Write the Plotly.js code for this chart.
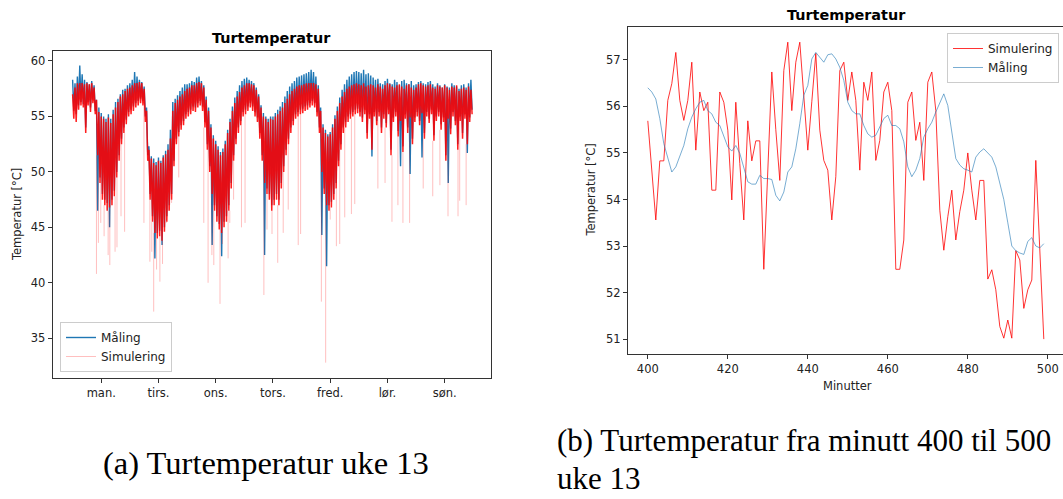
<!DOCTYPE html>
<html><head><meta charset="utf-8">
<script src="https://cdn.plot.ly/plotly-3.0.1.min.js"></script>
<style>html,body{margin:0;padding:0;background:#fff;}#chart{width:1063px;height:499px;}</style>
</head><body><div id="chart"></div>
<script>
// ---------- (a) Week 13, hourly envelope of the dense minute series ----------
const dayNames = ['man.', 'tirs.', 'ons.', 'tors.', 'fred.', 'lør.', 'søn.'];
const dayTickHours = [12, 36, 60, 84, 108, 132, 156];

// Simulering: upper / lower edge of the dense band, per hour (h = 0..167)
const simHi = [
 57.0,57.6,58.0,58.0,58.0,57.9,58.0,57.9,58.0,57.6,56.5,55.4,55.0,54.8,54.5,54.9,54.4,55.2,55.8,56.3,56.8,57.0,57.3,57.5,
 57.6,57.8,58.0,58.0,58.1,58.0,57.5,55.5,52.0,51.2,50.8,50.6,51.0,50.8,51.3,51.6,52.0,53.0,55.5,56.2,56.5,56.8,57.0,57.3,
 57.5,57.6,57.8,57.8,58.0,58.1,58.0,57.6,56.5,55.5,54.0,53.0,52.5,52.0,51.5,51.8,52.5,53.5,54.5,55.5,56.2,56.8,57.2,57.6,
 57.8,58.0,58.0,57.9,57.8,57.4,56.8,55.8,55.0,54.8,54.5,54.8,54.7,55.0,55.2,55.5,55.8,56.2,56.6,57.0,57.3,57.5,57.7,57.8,
 57.8,57.9,58.0,58.0,58.0,58.0,57.9,57.5,55.5,54.0,53.5,53.2,53.4,54.0,54.8,55.5,56.2,56.8,57.2,57.5,57.7,57.8,57.9,58.0,
 57.9,57.8,58.0,57.7,57.8,57.9,57.8,57.6,57.9,57.7,57.5,57.8,58.0,57.9,57.7,57.6,57.8,57.9,57.7,57.5,57.8,57.9,57.6,57.4,
 57.6,57.9,58.0,57.8,57.7,57.8,57.9,57.6,57.5,57.8,57.7,57.6,57.8,57.6,57.4,57.7,57.6,57.8,57.3,57.5,57.6,57.4,57.7,57.4
];
const simLo = [
 54.8,54.5,55.6,56.0,55.8,53.5,56.0,55.4,56.2,55.2,51.5,49.0,47.5,47.0,46.5,46.8,47.0,47.8,49.5,51.0,52.5,53.5,54.3,55.0,
 55.2,55.5,55.8,56.0,56.2,56.0,54.5,51.0,47.5,45.5,44.5,44.0,44.2,43.8,44.6,45.5,46.5,47.5,50.5,52.5,53.2,53.8,54.2,54.8,
 55.0,55.2,55.5,55.4,55.8,56.0,55.5,54.0,52.0,50.0,48.0,46.5,45.5,44.8,44.5,45.0,45.5,46.5,48.5,51.0,52.5,53.5,54.2,55.0,
 55.2,55.5,55.8,55.5,55.0,54.5,53.0,51.0,49.0,48.0,47.5,46.5,47.0,47.5,47.0,48.5,50.0,51.5,52.5,53.5,54.2,54.8,55.0,55.2,
 55.3,55.5,55.6,55.8,56.0,55.8,55.0,53.5,50.0,48.0,47.0,46.5,46.8,47.5,48.5,50.5,52.0,53.5,54.0,54.5,54.8,55.0,55.2,55.3,
 55.0,54.5,55.2,53.0,54.8,52.0,55.0,54.2,55.0,53.5,54.8,54.0,55.2,51.5,54.5,55.0,53.2,54.6,51.8,54.8,53.5,54.9,52.5,54.5,
 55.0,54.2,55.3,53.0,55.0,54.4,55.2,52.8,54.6,55.0,53.8,54.5,51.0,54.8,53.4,55.0,54.2,52.0,54.6,53.0,54.8,52.5,54.5,55.2
];
// Simulering: isolated deep dips (hour, lowest value)
const simDipHour = [10.0,10.8,11.8,13.2,14.9,15.6,17.8,18.6,20.3,21.8,
 29.9,32.4,33.2,34.0,35.2,36.6,37.7,39.3,40.1,41.5,44.5,
 55.0,56.8,58.4,59.2,61.8,62.8,65.2,65.9,67.5,70.8,
 72.3,80.2,81.5,83.6,86.0,88.3,90.4,94.6,95.6,
 104.3,106.1,108.0,110.6,112.0,114.1,116.9,118.3,
 128.0,131.0,133.9,136.4,138.5,141.3,147.0,151.0,154.0,157.4,161.6,162.3,165.0];
const simDipMin = [40.8,43.6,45.4,44.2,42.5,41.6,42.8,43.2,46.0,44.6,
 45.4,41.9,42.8,37.4,41.2,40.1,41.7,45.4,47.0,47.2,49.5,
 45.4,40.0,42.5,41.6,38.1,43.5,42.2,45.4,47.5,45.0,
 45.4,38.9,44.8,44.4,41.8,44.5,46.6,43.4,44.4,
 38.3,32.8,45.7,43.3,43.5,45.9,46.2,47.1,
 48.5,49.0,45.5,47.0,45.4,45.4,48.5,47.8,48.8,46.0,46.0,47.4,47.0];

// Måling: upper / lower edge per hour
const malHi = [
 58.3,58.0,58.6,59.6,58.8,58.3,58.1,57.9,58.2,57.8,56.5,55.8,55.3,55.0,54.8,55.2,54.8,55.6,56.3,56.6,57.0,57.4,57.5,57.8,
 58.0,58.3,59.0,58.6,58.3,58.1,57.7,55.8,52.3,51.4,51.2,50.9,51.3,51.0,51.5,51.9,52.5,53.8,56.3,56.6,56.9,57.3,57.6,57.9,
 57.9,58.0,58.2,58.1,58.5,58.6,58.2,57.8,56.8,55.8,54.3,53.3,52.8,52.3,51.8,52.1,52.8,53.8,54.8,55.9,56.7,57.3,57.8,58.2,
 58.4,58.5,58.3,58.2,58.0,57.6,57.0,56.0,55.3,55.0,54.8,55.0,55.0,55.3,55.6,55.9,56.3,56.8,57.3,57.7,58.0,58.2,58.5,58.6,
 58.7,58.8,58.9,59.0,59.2,59.0,58.6,57.8,55.8,54.3,53.8,53.4,53.6,54.3,55.1,55.9,56.7,57.4,57.9,58.3,58.6,58.8,59.0,59.1,
 59.0,58.9,59.2,58.8,58.9,58.7,58.5,58.3,58.4,58.0,57.9,58.2,58.4,58.0,57.9,58.3,58.1,57.8,58.2,58.3,58.0,57.9,58.2,57.8,
 57.9,58.1,58.2,58.0,57.9,58.1,58.2,57.9,57.7,58.0,57.8,57.6,57.9,57.7,57.6,58.0,57.8,57.7,57.5,57.8,57.9,57.6,58.0,58.3
];
const malLo = [
 55.5,55.2,56.0,56.3,56.1,54.0,56.3,55.8,56.5,55.5,46.5,49.5,48.0,47.5,47.2,45.0,47.5,48.3,50.0,51.5,53.0,54.0,54.7,55.4,
 55.6,55.9,56.2,56.4,56.6,56.4,55.0,51.5,48.0,46.0,42.2,44.5,44.7,43.4,45.0,46.0,47.0,48.0,51.0,53.0,53.6,54.2,54.6,55.2,
 55.4,55.6,55.9,55.8,56.2,56.4,55.9,54.5,52.5,50.5,43.4,47.0,46.0,45.3,42.4,45.5,46.0,47.0,49.0,51.5,53.0,54.0,54.6,55.4,
 55.6,55.9,56.2,55.9,55.4,54.9,53.5,51.5,42.5,48.5,48.0,47.0,47.5,48.0,47.5,49.0,50.5,52.0,53.0,54.0,54.6,55.2,55.4,55.6,
 55.7,55.9,56.0,56.2,56.4,56.2,55.4,54.0,44.3,48.5,41.5,47.0,47.3,48.0,49.0,51.0,52.5,54.0,54.5,55.0,55.2,55.4,55.6,55.7,
 55.4,54.9,55.6,53.5,55.2,51.4,55.4,54.6,55.4,54.0,55.2,54.4,55.6,52.0,54.9,55.4,53.7,50.5,52.3,55.2,54.0,49.8,53.0,54.9,
 55.4,54.6,51.3,53.5,55.4,54.8,55.6,53.3,55.0,55.4,54.3,54.9,51.5,49.0,53.9,55.4,54.6,52.5,55.0,53.5,55.2,51.7,54.9,55.6
];

// ---------- (b) minutes 400..499 ----------
const startMinute = 400;
const simulering = [
 55.69,54.60,53.56,54.83,54.83,56.13,56.49,57.16,56.13,55.70,
 56.13,56.95,55.06,56.31,55.91,56.09,54.20,54.20,56.31,56.09,
 55.49,53.99,56.09,54.77,53.56,55.69,54.83,55.26,55.26,52.50,
 54.60,56.74,55.50,54.41,56.77,57.38,55.91,56.95,57.38,56.27,
 55.06,56.10,57.14,55.49,54.84,54.63,53.56,54.49,56.77,56.95,
 56.13,56.74,56.13,54.63,56.52,56.13,56.74,54.84,55.27,56.31,
 56.52,55.91,52.50,52.50,53.13,56.09,56.31,55.27,55.66,54.41,
 56.52,56.74,55.91,53.77,52.91,53.63,54.20,53.13,53.74,54.20,
 55.00,54.20,53.56,54.41,54.41,52.29,52.49,52.06,51.27,51.02,
 51.41,51.02,52.90,52.70,51.66,52.06,52.27,54.84,52.90,51.00
];
const maling = [
 56.40,56.31,56.16,55.74,55.20,54.88,54.59,54.70,54.91,55.16,
 55.52,55.77,55.95,56.09,56.13,55.91,55.84,55.66,55.59,55.38,
 55.13,55.04,55.16,54.99,54.70,54.38,54.33,54.33,54.52,54.45,
 54.45,54.43,54.09,53.97,54.16,54.59,54.70,55.09,55.63,56.24,
 56.45,57.02,57.16,57.06,56.95,57.11,57.13,57.02,56.84,56.56,
 56.09,55.91,55.84,55.84,55.59,55.41,55.34,55.38,55.56,55.74,
 55.81,55.59,55.59,55.52,55.24,54.70,54.49,54.63,54.88,55.34,
 55.52,55.66,55.88,56.09,56.27,56.02,55.41,54.88,54.74,54.66,
 54.63,54.59,54.91,55.02,55.09,54.99,54.91,54.70,54.34,54.00,
 53.50,53.00,52.90,52.85,52.82,53.10,53.18,53.00,52.96,53.05
];
const yTicksA = [35, 40, 45, 50, 55, 60];
const xTicksB = [400, 420, 440, 460, 480, 500];
const yTicksB = [51, 52, 53, 54, 55, 56, 57];

// ---------- build ----------
function band(hi, lo) {
  const x = [], y = [];
  hi.forEach((v, i) => { x.push(i, i + 0.5); y.push(v, lo[i]); });
  return {x, y};
}
const mBand = band(malHi, malLo);
const sBand = band(simHi, simLo);
const dipX = [], dipY = [];
simDipHour.forEach((h, i) => { dipX.push(h, h, null); dipY.push(simLo[Math.floor(h)], simDipMin[i], null); });
const minutter = simulering.map((_, i) => startMinute + i);

const W = 1063, H = 499;
const fx = p => p / W, fy = p => 1 - p / H;
const FONT = 'DejaVu Sans, sans-serif';
const INK = '#222';

const traces = [
  {x: mBand.x, y: mBand.y, xaxis: 'x', yaxis: 'y', mode: 'lines', name: 'Måling',
   line: {color: '#1f77b4', width: 1.4}, legend: 'legend'},
  {x: dipX, y: dipY, xaxis: 'x', yaxis: 'y', mode: 'lines', name: 'Simulering', connectgaps: false,
   line: {color: 'rgba(255,0,0,0.25)', width: 1}, legend: 'legend', legendgroup: 'sim'},
  {x: sBand.x, y: sBand.y, xaxis: 'x', yaxis: 'y', mode: 'lines', name: 'Simulering', showlegend: false,
   line: {color: 'rgba(255,0,0,0.88)', width: 1.5}, legendgroup: 'sim'},
  {x: minutter, y: simulering, xaxis: 'x2', yaxis: 'y2', mode: 'lines', name: 'Simulering',
   line: {color: 'rgba(255,0,0,0.8)', width: 1}, legend: 'legend2'},
  {x: minutter, y: maling, xaxis: 'x2', yaxis: 'y2', mode: 'lines', name: 'Måling',
   line: {color: 'rgba(31,119,180,0.6)', width: 1}, legend: 'legend2'}
];

const axBase = {showgrid: false, zeroline: false, showline: true, linecolor: '#333', linewidth: 1,
  ticks: 'outside', ticklen: 4, tickwidth: 1, tickcolor: '#333',
  tickfont: {family: FONT, size: 11.5, color: INK}, fixedrange: true};

const legBase = {bgcolor: 'rgba(255,255,255,0.8)', bordercolor: '#cccccc', borderwidth: 1,
  font: {family: FONT, size: 12, color: INK}, tracegroupgap: 0, itemwidth: 30};

function ann(text, x, y, opts) {
  return Object.assign({text, x: fx(x), y: fy(y), xref: 'paper', yref: 'paper', showarrow: false,
    xanchor: 'center', yanchor: 'middle', font: {family: FONT, size: 11.5, color: INK}}, opts || {});
}
const SERIF_A = {family: 'Liberation Serif, serif', size: 32.5, color: '#000'};
const SERIF_B = {family: 'Liberation Serif, serif', size: 31, color: '#000'};

const layout = {
  width: W, height: H, margin: {l: 0, r: 0, t: 0, b: 0},
  paper_bgcolor: '#fff', plot_bgcolor: '#fff',
  xaxis: Object.assign({}, axBase, {domain: [fx(52.7), fx(490.7)], range: [-8.35, 175.3], anchor: 'y',
    mirror: true, tickmode: 'array', tickvals: dayTickHours, ticktext: dayNames}),
  yaxis: Object.assign({}, axBase, {domain: [fy(378.3), fy(51)], range: [31.39, 60.9], anchor: 'x',
    mirror: true, tickmode: 'array', tickvals: yTicksA}),
  xaxis2: Object.assign({}, axBase, {domain: [fx(628), 1], range: [395.05, 503.8], anchor: 'y2',
    mirror: true, tickmode: 'array', tickvals: xTicksB}),
  yaxis2: Object.assign({}, axBase, {domain: [fy(354), fy(27.3)], range: [50.68, 57.70], anchor: 'x2',
    mirror: false, tickmode: 'array', tickvals: yTicksB}),
  legend: Object.assign({}, legBase, {x: fx(60), y: fy(372), xanchor: 'left', yanchor: 'bottom'}),
  legend2: Object.assign({}, legBase, {x: fx(1059), y: fy(33), xanchor: 'right', yanchor: 'top'}),
  showlegend: true,
  annotations: [
    ann('<b>Turtemperatur</b>', 271.7, 38, {font: {family: FONT, size: 14.4, color: '#000'}}),
    ann('<b>Turtemperatur</b>', 846, 15, {font: {family: FONT, size: 14.4, color: '#000'}}),
    ann('Temperatur [°C]', 16.5, 214.6, {textangle: -90}),
    ann('Temperatur [°C]', 591, 190.6, {textangle: -90}),
    ann('Minutter', 847, 386),
    ann('(a) Turtemperatur uke 13', 265.5, 463, {font: SERIF_A}),
    ann('(b) Turtemperatur fra minutt 400 til 500', 555, 440, {font: SERIF_B, xanchor: 'left'}),
    ann('uke 13', 555, 478, {font: SERIF_B, xanchor: 'left'})
  ]
};

Plotly.newPlot('chart', traces, layout, {staticPlot: true, displayModeBar: false});
</script></body></html>
